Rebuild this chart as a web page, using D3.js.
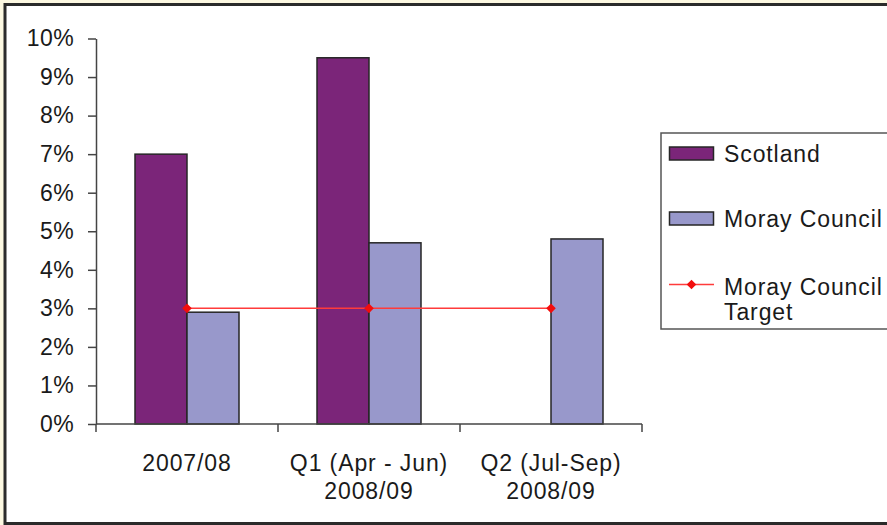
<!DOCTYPE html>
<html>
<head>
<meta charset="utf-8">
<script src="https://cdn.jsdelivr.net/npm/d3@7"></script>
<style>
  html, body { margin: 0; padding: 0; background: #fcf8e1; }
  svg { display: block; }
  text { font-family: "Liberation Sans", Arial, sans-serif; fill: #1a1a1a; }
</style>
</head>
<body>
<svg id="chart" width="887" height="525"></svg>
<script>
// Sickness absence rates: Scotland vs Moray Council, with Moray's target
const categories = [["2007/08"], ["Q1 (Apr - Jun)", "2008/09"], ["Q2 (Jul-Sep)", "2008/09"]];
const categoryKeys = ["2007/08", "Q1 2008/09", "Q2 2008/09"];
const seriesNames = ["Scotland", "Moray Council"];
const scotland = [7.0, 9.5, null];
const moray = [2.9, 4.7, 4.8];
const target = [3, 3, 3];
const yTicks = [0, 1, 2, 3, 4, 5, 6, 7, 8, 9, 10];

const colors = { "Scotland": "#7b2579", "Moray Council": "#9898cb" };
const lineColor = "#ff3b3b";
const markerColor = "#f20d0d";

const svg = d3.select("#chart");

// outer frame
svg.append("rect").attr("x", 0).attr("y", 0).attr("width", 887).attr("height", 525).attr("fill", "#fcf8e1");
svg.append("rect").attr("x", 5).attr("y", 4.5).attr("width", 900).attr("height", 519)
  .attr("fill", "#fff").attr("stroke", "#2b2b2b").attr("stroke-width", 3);
svg.append("line").attr("x1", 5).attr("x2", 887).attr("y1", 523.5).attr("y2", 523.5)
  .attr("stroke", "#2b2b2b").attr("stroke-width", 2);

const plot = { left: 96, right: 642, top: 38.5, bottom: 424 };

const x0 = d3.scaleBand().domain(categoryKeys).range([plot.left, plot.right]).padding(0);
const x1 = d3.scaleBand().domain(seriesNames).range([0, x0.bandwidth()]).paddingInner(0).paddingOuter(0.75);
const y = d3.scaleLinear().domain([0, 10]).range([plot.bottom, plot.top]);

// bars
const rows = categoryKeys.map((k, i) => ({ key: k, values: [
  { name: "Scotland", v: scotland[i] },
  { name: "Moray Council", v: moray[i] }
]}));

const groups = svg.append("g").selectAll("g").data(rows).join("g")
  .attr("transform", d => `translate(${x0(d.key)},0)`);
groups.selectAll("rect").data(d => d.values.filter(e => e.v != null)).join("rect")
  .attr("x", d => x1(d.name))
  .attr("width", x1.bandwidth())
  .attr("y", d => y(d.v))
  .attr("height", d => y(0) - y(d.v))
  .attr("fill", d => colors[d.name])
  .attr("stroke", "#262626")
  .attr("stroke-width", 1.5);

// y axis
const yAxis = d3.axisLeft(y).tickValues(yTicks).tickFormat(d => d + "%")
  .tickSize(8).tickSizeOuter(0).tickPadding(14);
const gy = svg.append("g").attr("transform", `translate(${plot.left},0)`).call(yAxis);
gy.select(".domain").attr("stroke", "#444").attr("stroke-width", 1.5);
gy.selectAll(".tick line").attr("stroke", "#444").attr("stroke-width", 1.5);
gy.selectAll(".tick text").attr("font-size", 23).attr("letter-spacing", 0.4)
  .attr("fill", "#1a1a1a").attr("font-family", "Liberation Sans, Arial, sans-serif");

// x axis: baseline with ticks at category boundaries
const gx = svg.append("g");
gx.append("line").attr("x1", plot.left).attr("x2", plot.right)
  .attr("y1", y(0)).attr("y2", y(0)).attr("stroke", "#444").attr("stroke-width", 1.5);
const bounds = categoryKeys.map(k => x0(k)).concat([plot.right]);
gx.selectAll("line.tk").data(bounds).join("line").attr("class", "tk")
  .attr("x1", d => d).attr("x2", d => d).attr("y1", y(0)).attr("y2", y(0) + 8)
  .attr("stroke", "#444").attr("stroke-width", 1.5);
gx.selectAll("text.cat").data(categories).join("text").attr("class", "cat")
  .attr("x", (d, i) => x0(categoryKeys[i]) + x0.bandwidth() / 2)
  .attr("y", 471)
  .attr("text-anchor", "middle")
  .attr("font-size", 23).attr("letter-spacing", 0.9)
  .selectAll("tspan").data(d => d).join("tspan")
  .attr("x", function () { return d3.select(this.parentNode).attr("x"); })
  .attr("dy", (d, i) => i === 0 ? 0 : 28)
  .text(d => d);

// target line
const cx = i => x0(categoryKeys[i]) + x0.bandwidth() / 2;
svg.append("path")
  .attr("d", d3.line().x((d, i) => cx(i)).y(d => y(d))(target))
  .attr("fill", "none").attr("stroke", lineColor).attr("stroke-width", 1.5);
svg.selectAll("path.mk").data(target).join("path").attr("class", "mk")
  .attr("d", d3.symbol(d3.symbolSquare).size(46))
  .attr("transform", (d, i) => `translate(${cx(i)},${y(d)}) rotate(45)`)
  .attr("fill", markerColor);

// legend
const lg = svg.append("g");
lg.append("rect").attr("x", 661).attr("y", 133).attr("width", 260).attr("height", 196)
  .attr("fill", "#fff").attr("stroke", "#555").attr("stroke-width", 1.5);
const legendItems = [
  { name: "Scotland", kind: "bar", y: 147, lines: ["Scotland"], ty: 161.5 },
  { name: "Moray Council", kind: "bar", y: 212, lines: ["Moray Council"], ty: 227 },
  { name: "Moray Council Target", kind: "line", y: 284.5, lines: ["Moray Council", "Target"], ty: 295 }
];
legendItems.forEach(it => {
  if (it.kind === "bar") {
    lg.append("rect").attr("x", 669.5).attr("y", it.y).attr("width", 44).attr("height", 13)
      .attr("fill", colors[it.name]).attr("stroke", "#262626").attr("stroke-width", 1.5);
  } else {
    lg.append("line").attr("x1", 669).attr("x2", 714).attr("y1", it.y).attr("y2", it.y)
      .attr("stroke", lineColor).attr("stroke-width", 1.5);
    lg.append("path").attr("d", d3.symbol(d3.symbolSquare).size(46))
      .attr("transform", `translate(691.5,${it.y}) rotate(45)`).attr("fill", markerColor);
  }
  const t = lg.append("text").attr("x", 724).attr("y", it.ty)
    .attr("font-size", 23).attr("letter-spacing", 0.9);
  t.selectAll("tspan").data(it.lines).join("tspan")
    .attr("x", 724).attr("dy", (d, i) => i === 0 ? 0 : 24.5).text(d => d);
});
</script>
</body>
</html>
